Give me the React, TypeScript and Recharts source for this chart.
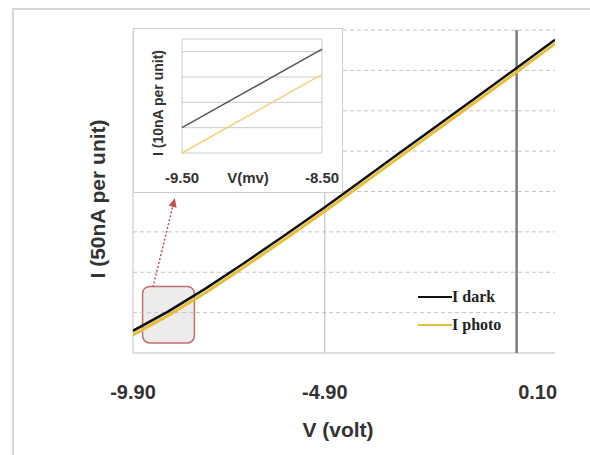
import React from "react";
import { LineChart, Line, XAxis, YAxis, ReferenceLine, ReferenceArea, Legend } from "recharts";

// main I-V curves (I in units of 50nA)
const voltage = [-9.9, -9.0, -8.0, -7.0, -6.0, -4.9, -4.0, -3.0, -2.0, -1.0, 0.1, 1.1];
const iDark = [0.55, 1.02, 1.6, 2.23, 2.88, 3.61, 4.23, 4.92, 5.61, 6.3, 7.06, 7.76];
const iPhoto = [0.45, 0.92, 1.5, 2.13, 2.78, 3.51, 4.13, 4.82, 5.51, 6.2, 6.96, 7.66];
const xTicks = [-9.9, -4.9, 0.1];
const yTicks = [1, 2, 3, 4, 5, 6, 7, 8];

// inset zoom (I in units of 10nA)
const insetV = [-9.5, -9.0, -8.5];
const insetDark = [1.0, 2.55, 4.1];
const insetPhoto = [0.0, 1.55, 3.1];
const insetXTicks = [-9.5, -8.5];
const insetYTicks = [1, 2, 3, 4];

const mainData = voltage.map((v, i) => ({ v, dark: iDark[i], photo: iPhoto[i] }));
const insetData = insetV.map((v, i) => ({ v, dark: insetDark[i], photo: insetPhoto[i] }));

const SANS = "'Liberation Sans', Arial, sans-serif";
const SERIF = "'Liberation Serif', 'Times New Roman', serif";
const DARK = "#111111";
const YELLOW = "#e8bd3a";

const tickShift: Record<string, number> = { "0.1": 21 };

function MainTick(props: any) {
  const { x, y, payload } = props;
  const dx = tickShift[String(payload.value)] || 0;
  return (
    <text x={x + dx} y={y + 38} textAnchor="middle" fontFamily={SANS} fontWeight="bold" fontSize={20} fill="#333">
      {payload.value.toFixed(2)}
    </text>
  );
}

function InsetTick(props: any) {
  const { x, y, payload } = props;
  return (
    <text x={x} y={y + 22} textAnchor="middle" fontFamily={SANS} fontWeight="bold" fontSize={15} fill="#333">
      {payload.value.toFixed(2)}
    </text>
  );
}

function Arrow(props: any) {
  const { x1, y1, x2, y2 } = props;
  const ang = Math.atan2(y2 - y1, x2 - x1);
  const L = 9;
  const W = 4;
  const bx = x2 - L * Math.cos(ang);
  const by = y2 - L * Math.sin(ang);
  const px = -Math.sin(ang) * W;
  const py = Math.cos(ang) * W;
  return (
    <g>
      <line x1={x1} y1={y1} x2={bx} y2={by} stroke="#c0504d" strokeWidth={1.5} strokeDasharray="2 2" />
      <polygon points={`${x2},${y2} ${bx + px},${by + py} ${bx - px},${by - py}`} fill="#c0504d" />
    </g>
  );
}

function LegendBox() {
  const rows = [
    { name: "I dark", color: DARK },
    { name: "I photo", color: YELLOW },
  ];
  return (
    <div>
      {rows.map((r) => (
        <div key={r.name} style={{ display: "flex", alignItems: "center", height: 28 }}>
          <span style={{ display: "inline-block", width: 34, height: 2, background: r.color }} />
          <span style={{ fontFamily: SERIF, fontWeight: "bold", fontSize: 16, color: "#222" }}>{r.name}</span>
        </div>
      ))}
    </div>
  );
}

function Inset() {
  return (
    <div style={{ position: "absolute", left: 133, top: 28, width: 208, height: 163, border: "1px solid #cfcfcf", background: "#fff" }}>
      <LineChart width={208} height={163} data={insetData} margin={{ top: 10, right: 20, bottom: 0, left: 0 }}>
        <XAxis
          dataKey="v"
          type="number"
          domain={[-9.5, -8.5]}
          ticks={insetXTicks}
          height={39}
          axisLine={false}
          tickLine={false}
          tick={<InsetTick />}
          label={(p: any) => (
            <text x={p.viewBox.x + p.viewBox.width / 2 - 4} y={p.viewBox.y + 30} textAnchor="middle" fontFamily={SANS} fontWeight="bold" fontSize={15} fill="#333">
              V(mv)
            </text>
          )}
        />
        <YAxis
          type="number"
          domain={[0, 4.5]}
          width={48}
          axisLine={false}
          tickLine={false}
          tick={false}
          label={(p: any) => {
            const cx = 29;
            const cy = p.viewBox.y + 64;
            return (
              <text x={cx} y={cy} transform={`rotate(-90, ${cx}, ${cy})`} textAnchor="middle" fontFamily={SANS} fontWeight="bold" fontSize={14} fill="#333">
                I (10nA per unit)
              </text>
            );
          }}
        />
        {insetYTicks.map((t) => (
          <ReferenceLine key={t} y={t} stroke="#cccccc" />
        ))}
        <ReferenceLine y={0} stroke="#cccccc" />
        <ReferenceLine y={4.5} stroke="#cccccc" />
        <ReferenceLine x={-9.5} stroke="#cccccc" />
        <ReferenceLine x={-8.5} stroke="#cccccc" />
        <Line dataKey="photo" stroke="#f2d27e" strokeWidth={1.5} dot={false} isAnimationActive={false} />
        <Line dataKey="dark" stroke="#555555" strokeWidth={1.5} dot={false} isAnimationActive={false} />
      </LineChart>
    </div>
  );
}

export default function App() {
  return (
    <div style={{ position: "fixed", left: 0, top: 0, width: 590, height: 455, background: "#fff", overflow: "hidden" }}>
      <div style={{ position: "absolute", left: 12, top: 8, width: 600, height: 470, borderLeft: "2px solid #d6d6d6", borderTop: "2px solid #d6d6d6" }} />
      <div style={{ position: "absolute", left: 0, top: 0 }}>
        <LineChart width={590} height={455} data={mainData} margin={{ top: 30, right: 35, bottom: 2, left: 12 }}>
          <XAxis
            dataKey="v"
            type="number"
            domain={[-9.9, 1.1]}
            ticks={xTicks}
            allowDataOverflow
            height={100}
            axisLine={false}
            tickLine={false}
            tick={<MainTick />}
            label={(p: any) => (
              <text x={p.viewBox.x + p.viewBox.width / 2 - 6} y={p.viewBox.y + 84} textAnchor="middle" fontFamily={SANS} fontWeight="bold" fontSize={21} fill="#333">
                V (volt)
              </text>
            )}
          />
          <YAxis
            type="number"
            domain={[0, 8]}
            width={121}
            axisLine={false}
            tickLine={false}
            tick={false}
            label={(p: any) => {
              const cx = 105;
              const cy = p.viewBox.y + 169;
              return (
                <text x={cx} y={cy} transform={`rotate(-90, ${cx}, ${cy})`} textAnchor="middle" fontFamily={SANS} fontWeight="bold" fontSize={21} fill="#333">
                  I (50nA per unit)
                </text>
              );
            }}
          />
          {yTicks.map((t) => (
            <ReferenceLine key={t} y={t} stroke="#c4c4c4" strokeDasharray="4 3" />
          ))}
          <ReferenceLine y={0} stroke="#bdbdbd" />
          <ReferenceLine x={-9.9} stroke="#c4c4c4" />
          <ReferenceLine x={-4.9} stroke="#b8b8b8" />
          <ReferenceLine x={0.1} stroke="#7c7c7c" strokeWidth={2.5} />
          <ReferenceArea
            x1={-9.65}
            x2={-8.3}
            y1={0.25}
            y2={1.65}
            shape={(p: any) => (
              <rect x={p.x} y={p.y} width={p.width} height={p.height} rx={7} ry={7} fill="#d9d2d2" fillOpacity={0.45} stroke="#c07070" strokeWidth={1.5} />
            )}
          />
          <ReferenceLine
            segment={[{ x: -9.38, y: 1.63 }, { x: -8.81, y: 3.84 }]}
            shape={(p: any) => <Arrow {...p} />}
          />
          <Line dataKey="photo" stroke={YELLOW} strokeWidth={3} dot={false} isAnimationActive={false} />
          <Line dataKey="dark" stroke={DARK} strokeWidth={2.5} dot={false} isAnimationActive={false} />
          <Legend
            layout="vertical"
            verticalAlign="middle"
            align="center"
            content={() => <LegendBox />}
            wrapperStyle={{ left: 418, top: 283, width: 120 }}
          />
        </LineChart>
      </div>
      <Inset />
    </div>
  );
}
